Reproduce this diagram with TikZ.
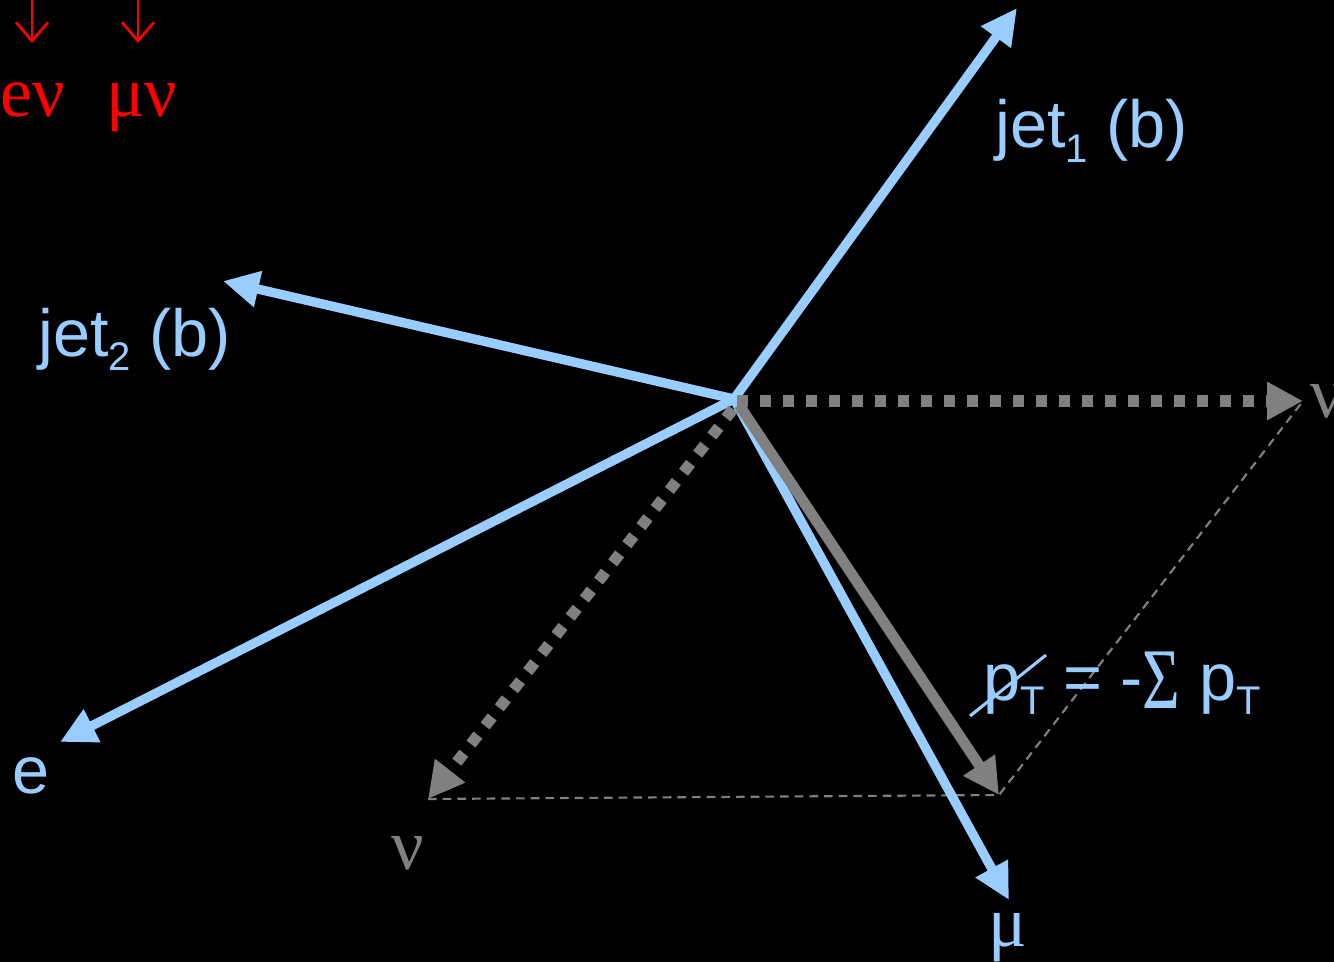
\documentclass[tikz,border=0pt]{standalone}
\usepackage{fontspec}
\setmainfont{Liberation Sans}
\newfontfamily\seriffont{Liberation Serif}
\usetikzlibrary{arrows.meta}
\definecolor{lblue}{RGB}{153,204,255}
\definecolor{mgray}{RGB}{128,128,128}
\newcommand\subsc[1]{\raisebox{-11pt}{\fontsize{30}{30}\selectfont #1}}
\begin{document}
\begin{tikzpicture}[x=0.75pt,y=-0.75pt,
  bigfont/.style={font=\fontsize{50}{58}\selectfont},
  lbl/.style={bigfont,inner sep=0pt,anchor=base west},
  serifl/.style={lbl,font=\seriffont\fontsize{54}{60}\selectfont},
  bluevec/.style={draw=lblue,line width=7pt,-{Triangle[length=27pt,width=26pt]}},
  grayvec/.style={draw=mgray,line width=8pt,-{Triangle[length=27pt,width=27pt]}},
  dotvec/.style={draw=mgray,line width=8.5pt,dash pattern=on 8.5pt off 8.75pt,-{Triangle[length=27pt,width=27pt]}},
  thindash/.style={draw=mgray,line width=1.6pt,dash pattern=on 6.5pt off 4.5pt},
  redarrow/.style={draw=red,line width=2pt,-{Straight Barb[length=14pt,width=24pt]}}]
\fill[black] (0,0) rectangle (1334,962);
\useasboundingbox (0,0) rectangle (1334,962);
\clip (0,0) rectangle (1334,962);
% coordinates
\coordinate (O) at (734,399);
\coordinate (Og) at (737,401);
\coordinate (j1) at (1017,8);
\coordinate (j2) at (223,281);
\coordinate (el) at (60,742);
\coordinate (mu) at (1009,900);
\coordinate (met) at (999,795);
\coordinate (nuR) at (1303,401);
\coordinate (nuL) at (428,799);
\coordinate (ra1) at (32,-2);
\coordinate (rb1) at (32,43);
\coordinate (ra2) at (138,-2);
\coordinate (rb2) at (138,43);
% thin dashed parallelogram edges
\draw[thindash] (nuL) -- (met) -- (nuR);
% blue vectors
\draw[bluevec] (O) -- (j1);
\draw[bluevec] (O) -- (j2);
\draw[bluevec] (O) -- (el);
\draw[bluevec] (O) -- (mu);
% gray vectors
\draw[dotvec] (Og) -- (nuR);
\draw[dotvec] ([shift={(-4,8)}]Og) -- (nuL);
\draw[grayvec] ([shift={(2,4)}]Og) -- (met);
% labels
\node[lbl,text=lblue] (tj1) at (995,148) {jet\subsc{1} (b)};
\node[lbl,text=lblue] (tj2) at (38,356) {jet\subsc{2} (b)};
\node[lbl,text=lblue] (te) at (12,793) {e};
\node[serifl,text=lblue] (tmu) at (988,946) {μ};
\node[serifl,text=mgray] (tnuL) at (391,869) {ν};
\node[serifl,text=mgray] (tnuR) at (1310,417) {ν};
\node[lbl,text=lblue] (tmet) at (983,700) {p\subsc{T} = -\raisebox{-6pt}{\seriffont\fontsize{54}{54}\selectfont\scalebox{0.9}[1.2]{Σ}} p\subsc{T}};
\coordinate (s1) at (970,716);
\coordinate (s2) at (1046,655);
\draw[lblue,line width=2.3pt] (s1) -- (s2);
% red
\node[serifl,text=red] (rev) at (0,117) {eν};
\node[serifl,text=red] (rmv) at (106,117) {μν};
\draw[redarrow] (ra1) -- (rb1);
\draw[redarrow] (ra2) -- (rb2);
\end{tikzpicture}
\end{document}
